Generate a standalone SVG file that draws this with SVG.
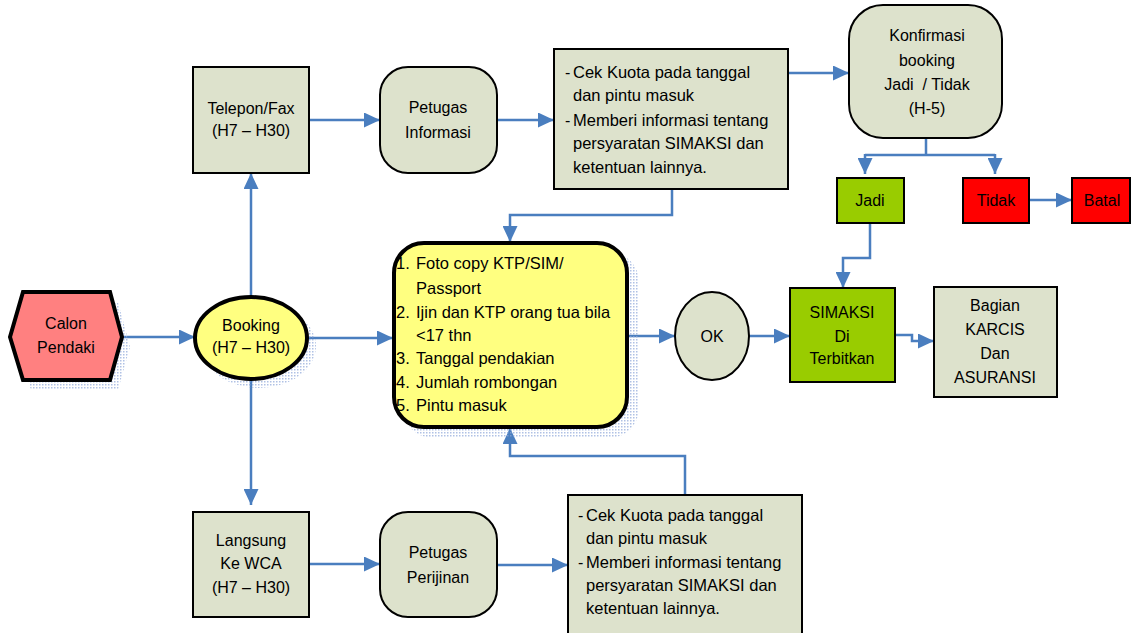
<svg xmlns="http://www.w3.org/2000/svg" width="1131" height="633" viewBox="0 0 1131 633">
<defs>
<pattern id="dots" width="3" height="3" patternUnits="userSpaceOnUse">
<rect x="0" y="0" width="1.5" height="1.5" fill="#8ea7d9"/>
</pattern>
<marker id="ah" markerUnits="userSpaceOnUse" markerWidth="17" markerHeight="15" refX="16" refY="7.5" orient="auto">
<path d="M0,0 L16,7.5 L0,15 z" fill="#4a7ebf"/>
</marker>
</defs>
<style>
text{font-family:"Liberation Sans",Arial,sans-serif;font-size:16px;fill:#000}
.c{text-anchor:middle}
.big{font-size:16.5px}
.box{fill:#dde2cc;stroke:#000;stroke-width:2}
.thick{stroke:#000;stroke-width:4}
.con{fill:none;stroke:#4a7ebf;stroke-width:2.5}
.arr{marker-end:url(#ah)}
.sh{fill:url(#dots);opacity:0.7}
</style>
<rect width="1131" height="633" fill="#fff"/>

<g id="connectors">
<path class="con arr" d="M122,337 H195"/>
<path class="con arr" d="M251,296 V173"/>
<path class="con arr" d="M251,380 V505"/>
<path class="con arr" d="M308,338 H393"/>
<path class="con arr" d="M309,120 H380"/>
<path class="con arr" d="M497,120 H554"/>
<path class="con arr" d="M788,73 H849"/>
<path class="con arr" d="M672,189 V215 H510 V242"/>
<path class="con" d="M926,138 V155 M865,155 H995"/>
<path class="con arr" d="M865,154 V174"/>
<path class="con arr" d="M995,154 V174"/>
<path class="con arr" d="M870,223 V258 H843 V288"/>
<path class="con arr" d="M1029,200 H1072"/>
<path class="con arr" d="M627,336 H675"/>
<path class="con arr" d="M749,336 H790"/>
<path class="con arr" d="M895,335 H912 V341 H934"/>
<path class="con arr" d="M309,564 H380"/>
<path class="con arr" d="M497,565 H568"/>
<path class="con arr" d="M685,495 V456 H510 V428"/>
</g>

<g id="calon-pendaki">
<polygon class="sh" points="18,347 31,302 118,302 130,347 118,390 31,390"/>
<polygon points="10,337 23,292 110,292 122,337 110,380 23,380" fill="#ff8080" class="thick"/>
<text class="c" x="66" y="329">Calon</text>
<text class="c" x="66" y="353">Pendaki</text>
</g>

<g id="booking">
<ellipse class="sh" cx="259" cy="346" rx="57" ry="42"/>
<ellipse cx="251" cy="338" rx="56" ry="41" fill="#ffff80" class="thick"/>
<text class="c" x="251" y="331">Booking</text>
<text class="c" x="251" y="353">(H7 – H30)</text>
</g>

<g id="telepon-fax">
<rect class="box" x="193" y="67" width="116" height="106"/>
<text class="c" x="251" y="114">Telepon/Fax</text>
<text class="c" x="251" y="136">(H7 – H30)</text>
</g>

<g id="petugas-informasi">
<rect class="box" x="380" y="67" width="117" height="106" rx="28"/>
<text class="c" x="438" y="113">Petugas</text>
<text class="c" x="438" y="138">Informasi</text>
</g>

<g id="cek-kuota-1">
<rect class="box" x="554" y="49" width="234" height="140"/>
<text x="565" y="78">-</text>
<text class="big" x="573" y="78">Cek Kuota pada tanggal</text>
<text class="big" x="573" y="101">dan pintu masuk</text>
<text x="565" y="126">-</text>
<text class="big" x="573" y="126">Memberi informasi tentang</text>
<text class="big" x="573" y="149">persyaratan SIMAKSI dan</text>
<text class="big" x="573" y="173">ketentuan lainnya.</text>
</g>

<g id="konfirmasi">
<rect class="box" x="849" y="5" width="153" height="133" rx="34"/>
<text class="c" x="927" y="41">Konfirmasi</text>
<text class="c" x="927" y="66">booking</text>
<text class="c" x="927" y="90">Jadi&#160; / Tidak</text>
<text class="c" x="927" y="114">(H-5)</text>
</g>

<g id="jadi">
<rect x="837" y="178" width="67" height="45" fill="#99cc00" stroke="#000" stroke-width="2"/>
<text class="c" x="870" y="206">Jadi</text>
</g>

<g id="tidak">
<rect x="963" y="178" width="66" height="45" fill="#ff0000" stroke="#000" stroke-width="2"/>
<text class="c" x="996" y="206">Tidak</text>
</g>

<g id="batal">
<rect x="1072" y="178" width="58" height="45" fill="#ff0000" stroke="#000" stroke-width="2"/>
<text class="c" x="1102" y="206">Batal</text>
</g>

<g id="persyaratan">
<rect class="sh" x="403" y="252" width="236" height="186" rx="30"/>
<rect x="394" y="243" width="233" height="184" rx="30" fill="#ffff80" class="thick"/>
<text class="big" x="396" y="269">1.</text>
<text class="big" x="416" y="269">Foto copy KTP/SIM/</text>
<text class="big" x="416" y="294">Passport</text>
<text class="big" x="396" y="318">2.</text>
<text class="big" x="416" y="318">Ijin dan KTP orang tua bila</text>
<text class="big" x="416" y="341">&lt;17 thn</text>
<text class="big" x="396" y="364">3.</text>
<text class="big" x="416" y="364">Tanggal pendakian</text>
<text class="big" x="396" y="388">4.</text>
<text class="big" x="416" y="388">Jumlah rombongan</text>
<text class="big" x="396" y="411">5.</text>
<text class="big" x="416" y="411">Pintu masuk</text>
</g>

<g id="ok">
<ellipse class="box" cx="712" cy="336" rx="37" ry="44"/>
<text class="c" x="712" y="342">OK</text>
</g>

<g id="simaksi">
<rect x="790" y="288" width="105" height="94" fill="#99cc00" stroke="#000" stroke-width="2"/>
<text class="c" x="842" y="318">SIMAKSI</text>
<text class="c" x="842" y="342">Di</text>
<text class="c" x="842" y="364">Terbitkan</text>
</g>

<g id="bagian-karcis">
<rect class="box" x="934" y="287" width="123" height="110"/>
<text class="c" x="995" y="311">Bagian</text>
<text class="c" x="995" y="335">KARCIS</text>
<text class="c" x="995" y="359">Dan</text>
<text class="c" x="995" y="383">ASURANSI</text>
</g>

<g id="langsung-wca">
<rect class="box" x="193" y="512" width="116" height="105"/>
<text class="c" x="251" y="546">Langsung</text>
<text class="c" x="251" y="569">Ke WCA</text>
<text class="c" x="251" y="593">(H7 – H30)</text>
</g>

<g id="petugas-perijinan">
<rect class="box" x="380" y="512" width="117" height="105" rx="28"/>
<text class="c" x="438" y="558">Petugas</text>
<text class="c" x="438" y="583">Perijinan</text>
</g>

<g id="cek-kuota-2">
<rect class="box" x="568" y="495" width="234" height="145"/>
<text x="578" y="521">-</text>
<text class="big" x="586" y="521">Cek Kuota pada tanggal</text>
<text class="big" x="586" y="544">dan pintu masuk</text>
<text x="578" y="568">-</text>
<text class="big" x="586" y="568">Memberi informasi tentang</text>
<text class="big" x="586" y="591">persyaratan SIMAKSI dan</text>
<text class="big" x="586" y="614">ketentuan lainnya.</text>
</g>
</svg>
